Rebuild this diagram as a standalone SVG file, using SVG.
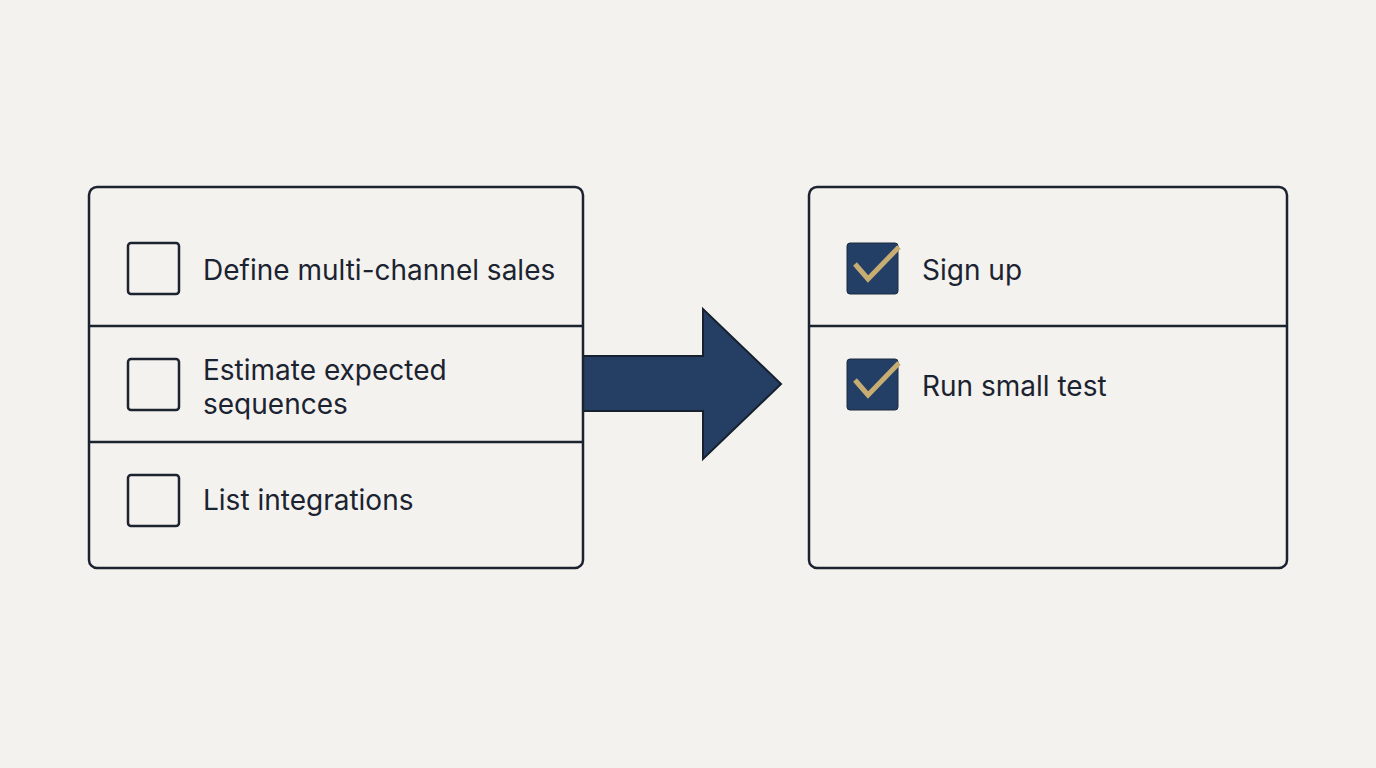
<svg xmlns="http://www.w3.org/2000/svg" width="1376" height="768" viewBox="0 0 1376 768">
<style>
.panel{fill:#f3f2ee;stroke:#1c2330;stroke-width:2.5}
.div{stroke:#1c2330;stroke-width:2.5}
.box{fill:none;stroke:#1c2330;stroke-width:2.5}
.cbox{fill:#233f66;stroke:#1c2a3d;stroke-width:1}
.chk{fill:none;stroke:#c8ad72;stroke-width:5;stroke-linecap:butt;stroke-linejoin:miter}
.t{font-family:Inter,"Noto Sans",sans-serif;font-size:28px;fill:#1c2330}
</style>
<rect width="1376" height="768" fill="#f3f2ee"/>
<g id="connectors">
<path d="M583,356 L703,356 L703,309 L781,384 L703,459 L703,411 L583,411 Z" fill="#243f63" stroke="#17202e" stroke-width="2" stroke-linejoin="miter"/>
</g>
<g id="todo-panel">
<rect class="panel" x="89" y="187" width="494" height="381" rx="8"/>
<line class="div" x1="89" y1="326" x2="583" y2="326"/>
<line class="div" x1="89" y1="442" x2="583" y2="442"/>
</g>
<g id="item-define">
<rect class="box" x="128" y="243" width="51" height="51" rx="3"/>
<text class="t" x="203" y="280">Define multi-channel sales</text>
</g>
<g id="item-estimate">
<rect class="box" x="128" y="359" width="51" height="51" rx="3"/>
<text class="t" x="203" y="380">Estimate expected</text>
<text class="t" x="203" y="414">sequences</text>
</g>
<g id="item-list">
<rect class="box" x="128" y="475" width="51" height="51" rx="3"/>
<text class="t" x="203" y="510">List integrations</text>
</g>
<g id="done-panel">
<rect class="panel" x="809" y="187" width="478" height="381" rx="8"/>
<line class="div" x1="809" y1="326" x2="1287" y2="326"/>
</g>
<g id="item-signup">
<rect class="cbox" x="847" y="243" width="51" height="51" rx="3"/>
<path class="chk" d="M855,264 L868,279 L899,247"/>
<text class="t" x="922" y="280">Sign up</text>
</g>
<g id="item-test">
<rect class="cbox" x="847" y="359" width="51" height="51" rx="3"/>
<path class="chk" d="M855,380 L868,395 L899,363"/>
<text class="t" x="922" y="396">Run small test</text>
</g>
</svg>
